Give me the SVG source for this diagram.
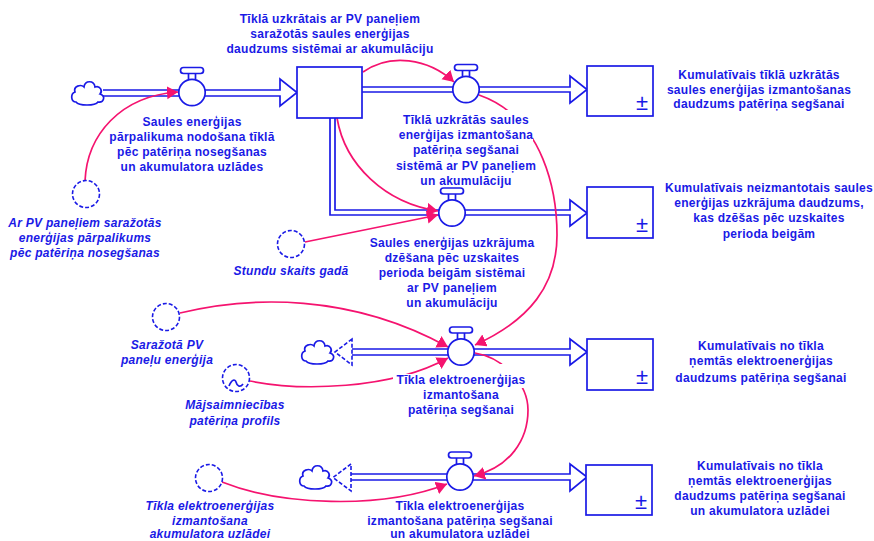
<svg xmlns="http://www.w3.org/2000/svg" width="874" height="541" viewBox="0 0 874 541">
<defs>
<marker id="ah" markerUnits="userSpaceOnUse" markerWidth="14" markerHeight="14" refX="11" refY="6.5" orient="auto"><path d="M0,0L11,6.5L0,13Z" fill="#f5136f"/></marker>
<g id="valve"><rect x="-11.5" y="-25" width="23" height="6" rx="3"/><path d="M-3.5,-19V-13M3.5,-19V-13"/><circle r="13.2"/></g>
<g id="cloud"><path d="M-12,9C-17,9-18,1-13,-1C-15,-7-7,-9-4,-6C-3,-13,6,-13,7,-6C12,-8,15,-2,12,1C18,3,16,10,10,9C7,13,-9,13-12,9Z"/></g>
</defs>
<style>
.f{fill:none;stroke:#1a1ae6;stroke-width:1.7}
.w{fill:#fff;stroke:#1a1ae6;stroke-width:1.7}
.d{fill:#fff;stroke:#1a1ae6;stroke-width:1.6;stroke-dasharray:4 2}
.l{fill:none;stroke:#f5136f;stroke-width:1.7;marker-end:url(#ah)}
.b{fill:#fff;stroke:none}
text{font-family:"Liberation Sans",Arial,sans-serif;font-size:12px;font-weight:700;letter-spacing:.28px;fill:#1a1ae6;text-anchor:middle}
.i{font-style:italic}
.pm{font-size:22px;font-weight:400;letter-spacing:0}
</style>
<g id="connectors">
<path class="f" d="M103,90H280V79L297,92.5L280,106V96H103"/>
<path class="f" d="M362,87H570V76L587,89.5L570,103V92H362"/>
<path class="f" d="M330,118V215H570V226L587,213L570,200V210H335V118"/>
<path class="f" d="M352,349H570V339L587,352L570,365V355H352"/>
<path class="d" d="M352,339L335,352L352,365Z"/>
<path class="f" d="M351,474H570V464L587,477L570,491V480H351"/>
<path class="d" d="M351,464L333,477.5L351,491Z"/>
<path class="l" d="M85,181C87,135 120,96 178,92"/>
<path class="l" d="M363,72C390,53 428,58 454,82"/>
<path class="l" d="M337,118C345,165 385,203 438,211"/>
<path class="l" d="M305,242L438,215"/>
<path class="l" d="M479,95C545,118 557,195 557,235C557,285 530,320 475,345"/>
<path class="l" d="M180,313C250,296 350,293 448,347"/>
<path class="l" d="M250,381C300,391 390,390 448,358"/>
<path class="l" d="M475,353C505,358 528,385 528,410C528,440 510,467 474,476"/>
<path class="l" d="M222,482C280,505 380,510 447,484"/>
</g>
<g id="source1"><use href="#cloud" x="88" y="93" class="w"/></g>
<g id="valve1"><use href="#valve" x="192" y="92.5" class="w"/><text x="192" y="126">Saules enerģijas</text><text x="192" y="141">pārpalikuma nodošana tīklā</text><text x="192" y="156">pēc patēriņa nosegšanas</text><text x="192" y="171">un akumulatora uzlādes</text></g>
<g id="stock0"><rect x="297" y="67" width="65" height="51" class="w"/><text x="330" y="23">Tīklā uzkrātais ar PV paneļiem</text><text x="330" y="38">saražotās saules enerģijas</text><text x="330" y="53">daudzums sistēmai ar akumulāciju</text></g>
<g id="valve2"><rect class="b" x="396" y="110" width="137" height="78"/><use href="#valve" x="466" y="89.5" class="w"/><text x="466" y="124">Tīklā uzkrātās saules</text><text x="466" y="139">enerģijas izmantošana</text><text x="466" y="154">patēriņa segšanai</text><text x="466" y="170">sistēmā ar PV paneļiem</text><text x="466" y="185">un akumulāciju</text></g>
<g id="stock1"><rect x="587" y="66" width="66" height="50" class="w"/><text class="pm" x="642" y="110">±</text><text x="759" y="79">Kumulatīvais tīklā uzkrātās</text><text x="759" y="94">saules enerģijas izmantošanas</text><text x="759" y="108">daudzums patēriņa segšanai</text></g>
<g id="valve3"><use href="#valve" x="452" y="213" class="w"/><text x="452" y="247">Saules enerģijas uzkrājuma</text><text x="452" y="262">dzēšana pēc uzskaites</text><text x="452" y="277">perioda beigām sistēmai</text><text x="452" y="292">ar PV paneļiem</text><text x="452" y="307">un akumulāciju</text></g>
<g id="stock2"><rect x="587" y="187" width="66" height="51" class="w"/><text class="pm" x="642" y="232">±</text><text x="769" y="192">Kumulatīvais neizmantotais saules</text><text x="769" y="207">enerģijas uzkrājuma daudzums,</text><text x="769" y="222">kas dzēšas pēc uzskaites</text><text x="769" y="238">perioda beigām</text></g>
<g id="aux1"><circle cx="86" cy="194" r="13.5" class="d"/><text class="i" x="85" y="227">Ar PV paneļiem saražotās</text><text class="i" x="85" y="242">enerģijas pārpalikums</text><text class="i" x="85" y="257">pēc patēriņa nosegšanas</text></g>
<g id="aux2"><circle cx="291" cy="244" r="13.5" class="d"/><text class="i" x="291" y="275">Stundu skaits gadā</text></g>
<g id="aux3"><circle cx="166" cy="317" r="13.5" class="d"/><text class="i" x="167" y="349">Saražotā PV</text><text class="i" x="167" y="364">paneļu enerģija</text></g>
<g id="aux4"><circle cx="236" cy="378" r="13.5" class="d"/><path class="f" d="M229,386C232,379 235,379 236,382C237,386 240,388 243,384"/><text class="i" x="235" y="409">Mājsaimniecības</text><text class="i" x="235" y="425">patēriņa profils</text></g>
<g id="aux5"><circle cx="209" cy="478" r="13.5" class="d"/><text class="i" x="210" y="510">Tīkla elektroenerģijas</text><text class="i" x="210" y="525">izmantošana</text><text class="i" x="210" y="538">akumulatora uzlādei</text></g>
<g id="source4"><use href="#cloud" x="318" y="352" class="w"/></g>
<g id="valve4"><rect class="b" x="393" y="374" width="132" height="14"/><rect class="b" x="498" y="364" width="27" height="12"/><use href="#valve" x="461" y="352" class="w"/><text x="461" y="384">Tīkla elektroenerģijas</text><text x="461" y="399">izmantošana</text><text x="461" y="414">patēriņa segšanai</text></g>
<g id="stock4"><rect x="587" y="339" width="66" height="51" class="w"/><text class="pm" x="642" y="384">±</text><text x="761" y="350">Kumulatīvais no tīkla</text><text x="761" y="365">ņemtās elektroenerģijas</text><text x="761" y="382">daudzums patēriņa segšanai</text></g>
<g id="source5"><use href="#cloud" x="316" y="477" class="w"/></g>
<g id="valve5"><use href="#valve" x="460" y="477" class="w"/><text x="460" y="510">Tīkla elektroenerģijas</text><text x="460" y="525">izmantošana patēriņa segšanai</text><text x="460" y="538">un akumulatora uzlādei</text></g>
<g id="stock5"><rect x="586" y="465" width="66" height="50" class="w"/><text class="pm" x="641" y="509">±</text><text x="760" y="470">Kumulatīvais no tīkla</text><text x="760" y="485">ņemtās elektroenerģijas</text><text x="760" y="500">daudzums patēriņa segšanai</text><text x="760" y="515">un akumulatora uzlādei</text></g>
</svg>
